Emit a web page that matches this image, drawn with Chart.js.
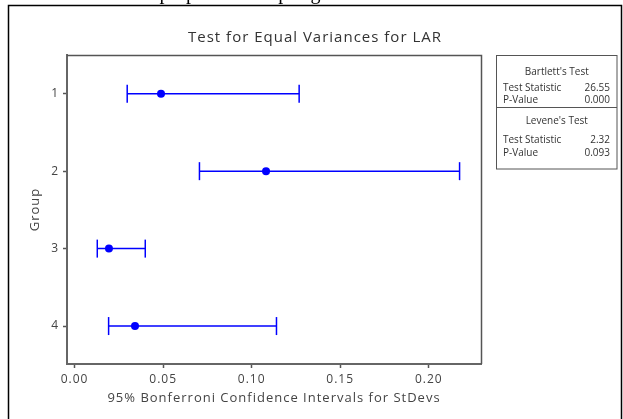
<!DOCTYPE html>
<html>
<head>
<meta charset="utf-8">
<script src="https://cdn.jsdelivr.net/npm/chart.js@4"></script>
<style>
  html, body { margin: 0; padding: 0; background: #fff; }
  #wrap { width: 623px; height: 419px; position: relative; }
</style>
</head>
<body>
<div id="wrap"><canvas id="c" width="623" height="419"></canvas></div>
<script>
// Groups and their 95% Bonferroni confidence intervals for the standard deviation
const groups = [1, 2, 3, 4];
const stdevs = [0.0488, 0.1081, 0.0194, 0.0341];
const lowerCI = [0.0297, 0.0705, 0.0128, 0.0192];
const upperCI = [0.1268, 0.2174, 0.0399, 0.1140];
const xTicks = [0.00, 0.05, 0.10, 0.15, 0.20];

// Test results shown in the side panel
const bartlettRows = [["Test Statistic", "26.55"], ["P-Value", "0.000"]];
const leveneRows = [["Test Statistic", "2.32"], ["P-Value", "0.093"]];

const BLUE = "#0000ff";
const FONT = "'Open Sans', sans-serif";

// One line dataset per group: the interval, with vertical caps at both ends
const intervalSets = groups.map((g, i) => ({
  type: "scatter",
  data: [{ x: lowerCI[i], y: g }, { x: upperCI[i], y: g }],
  showLine: true,
  borderColor: BLUE,
  borderWidth: 1.5,
  pointStyle: "line",
  rotation: 90,
  pointRadius: 9,
  pointBorderColor: BLUE,
  pointBorderWidth: 1.5,
  pointHoverRadius: 9,
  order: 2
}));

const centerSet = {
  type: "scatter",
  data: groups.map((g, i) => ({ x: stdevs[i], y: g })),
  pointStyle: "circle",
  pointRadius: 4,
  pointHoverRadius: 4,
  backgroundColor: BLUE,
  borderColor: BLUE,
  borderWidth: 0,
  showLine: false,
  order: 1
};

// Wide-tracked lettering for the axis text
const tracking = {
  id: "tracking",
  beforeInit(chart) { chart.ctx.letterSpacing = "1px"; },
  beforeDraw(chart) { chart.ctx.letterSpacing = "1px"; }
};

// Frame, heading, plot-box edges and the test panel
const decorations = {
  id: "decorations",
  beforeDraw(chart) {
    const ctx = chart.ctx;
    ctx.save();
    // text running above the frame
    ctx.letterSpacing = "0px";
    ctx.fillStyle = "#000";
    ctx.font = "20px 'Liberation Serif', serif";
    ctx.textBaseline = "alphabetic";
    ctx.textAlign = "left";
    ctx.fillText("the proportion of springs", 130, -1);
    ctx.restore();
  },
  afterDraw(chart) {
    const ctx = chart.ctx;
    const a = chart.chartArea;
    ctx.save();

    // outer frame
    ctx.strokeStyle = "#000";
    ctx.lineWidth = 1.5;
    ctx.beginPath();
    ctx.moveTo(8.5, 425);
    ctx.lineTo(8.5, 5.5);
    ctx.lineTo(621.5, 5.5);
    ctx.lineTo(621.5, 425);
    ctx.stroke();

    // top and right edges of the plot box
    ctx.strokeStyle = "#555";
    ctx.lineWidth = 1.5;
    ctx.beginPath();
    ctx.moveTo(a.left, a.top + 0.5);
    ctx.lineTo(a.right + 0.5, a.top + 0.5);
    ctx.lineTo(a.right + 0.5, a.bottom);
    ctx.stroke();

    // heading
    ctx.letterSpacing = "1px";
    ctx.fillStyle = "#333";
    ctx.font = "15px " + FONT;
    ctx.textAlign = "center";
    ctx.textBaseline = "middle";
    ctx.fillText("Test for Equal Variances for LAR", 315, 38);

    // test panel
    const bx = 496.5, by = 55.5, bw = 120.5, bh = 113.5, split = 107.5;
    ctx.strokeStyle = "#555";
    ctx.lineWidth = 1;
    ctx.strokeRect(bx, by, bw, bh);
    ctx.beginPath();
    ctx.moveTo(bx, split);
    ctx.lineTo(bx + bw, split);
    ctx.stroke();

    ctx.letterSpacing = "0px";
    ctx.font = "10px " + FONT;
    ctx.fillStyle = "#333";
    ctx.textAlign = "center";
    ctx.fillText("Bartlett's Test", bx + bw / 2, 72);
    ctx.fillText("Levene's Test", bx + bw / 2, 121);
    const rowsY = [[bartlettRows, [88.5, 100.5]], [leveneRows, [140, 153]]];
    rowsY.forEach(([rows, ys]) => {
      rows.forEach((r, k) => {
        ctx.textAlign = "left";
        ctx.fillText(r[0], 503, ys[k]);
        ctx.textAlign = "right";
        ctx.fillText(r[1], 610, ys[k]);
      });
    });
    ctx.restore();
  }
};

new Chart(document.getElementById("c"), {
  type: "scatter",
  data: { datasets: [...intervalSets, centerSet] },
  options: {
    responsive: false,
    animation: false,
    events: [],
    layout: { padding: { left: 0, top: 55, right: 142, bottom: 0 } },
    plugins: { legend: { display: false }, tooltip: { enabled: false }, title: { display: false } },
    scales: {
      x: {
        type: "linear",
        min: -0.0043,
        max: 0.2295,
        afterBuildTicks(scale) { scale.ticks = xTicks.map(v => ({ value: v })); },
        afterFit(scale) { scale.height = 55; },
        grid: { display: true, drawOnChartArea: false, drawTicks: true, tickLength: 4, color: "#555", tickWidth: 1.5 },
        border: { display: true, color: "#666", width: 2 },
        ticks: {
          padding: 4,
          color: "#444",
          font: { family: FONT, size: 12 },
          callback: v => Number(v).toFixed(2)
        },
        title: {
          display: true,
          text: "95% Bonferroni Confidence Intervals for StDevs",
          color: "#444",
          font: { family: FONT, size: 13 },
          padding: { top: 0, bottom: 13 }
        }
      },
      y: {
        type: "linear",
        reverse: true,
        min: 0.5,
        max: 4.49,
        afterBuildTicks(scale) { scale.ticks = groups.map(v => ({ value: v })); },
        afterFit(scale) { scale.width = 67; },
        grid: { display: true, drawOnChartArea: false, drawTicks: true, tickLength: 4, color: "#555", tickWidth: 1.5 },
        border: { display: true, color: "#666", width: 2 },
        ticks: {
          padding: 4,
          color: "#444",
          font: { family: FONT, size: 12 },
          callback: v => String(v)
        },
        title: {
          display: true,
          text: "Group",
          color: "#444",
          font: { family: FONT, size: 13 },
          padding: { top: 27, bottom: 0 }
        }
      }
    }
  },
  plugins: [tracking, decorations]
});
</script>
</body>
</html>
